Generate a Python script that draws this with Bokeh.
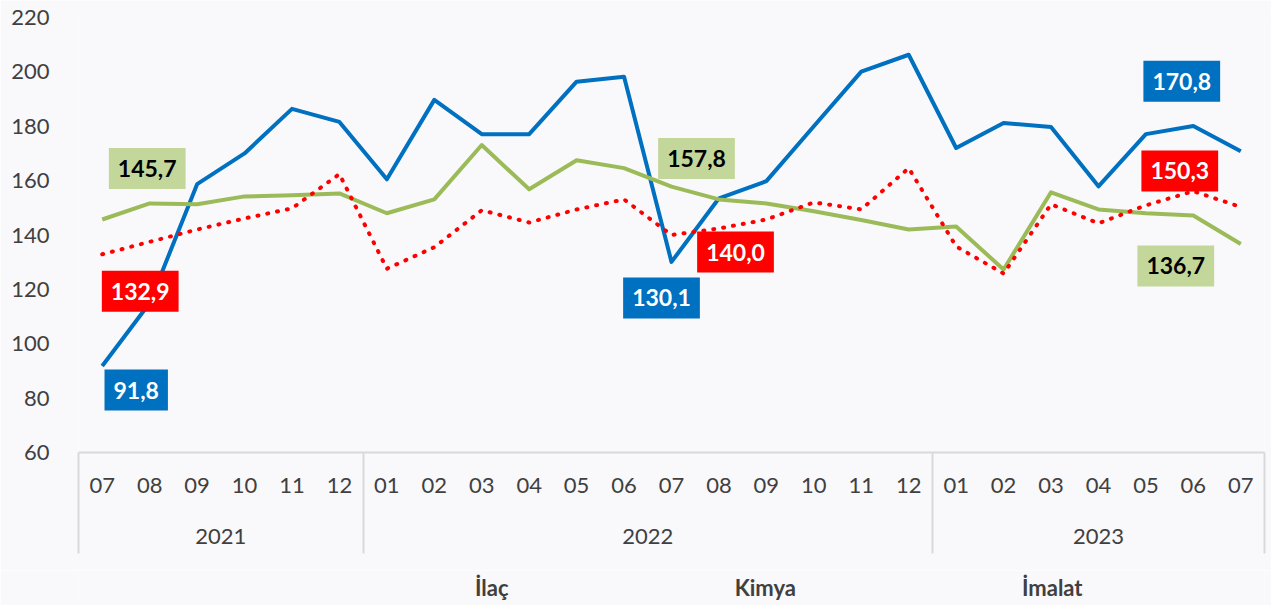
from bokeh.plotting import figure
from bokeh.layouts import column
from bokeh.models import Range1d, Legend, LegendItem, FixedTicker, ColumnDataSource, LinearAxis
from bokeh.embed import file_html
from bokeh.resources import INLINE
from bokeh.core.properties import value

# ---- data ----
years = ["2021"] * 6 + ["2022"] * 12 + ["2023"] * 7
months = ["07", "08", "09", "10", "11", "12",
          "01", "02", "03", "04", "05", "06", "07", "08", "09", "10", "11", "12",
          "01", "02", "03", "04", "05", "06", "07"]
ilac = [91.8, 115.0, 158.7, 170.0, 186.4, 181.6, 160.5, 189.7, 177.1, 177.1, 196.4, 198.2,
        130.1, 153.5, 159.8, 180.0, 200.1, 206.3, 172.0, 181.2, 179.7, 157.9, 177.1, 180.1, 170.8]
kimya = [145.7, 151.6, 151.3, 154.2, 154.6, 155.3, 148.0, 153.1, 173.1, 156.8, 167.5, 164.6,
         157.8, 153.1, 151.6, 148.7, 145.5, 142.0, 143.1, 127.3, 155.7, 149.4, 148.0, 147.2, 136.7]
imalat = [132.9, 137.5, 142.0, 146.1, 149.8, 162.4, 127.6, 135.5, 149.1, 144.6, 149.4, 153.1,
          140.0, 142.4, 145.7, 152.0, 149.4, 164.6, 135.8, 125.8, 151.3, 144.3, 150.9, 156.1, 150.3]
series_names = ["İlaç", "Kimya", "İmalat"]
y_ticks = [60, 80, 100, 120, 140, 160, 180, 200, 220]

# ---- styles ----
BG = "#F9F8FB"
FONT = "Lato"
TXT = "#404040"
GRID = "#D9D9D9"
line_colors = ["#0070C0", "#9BBB59", "#FF0000"]
box_colors = ["#0070C0", "#C4D79B", "#FF0000"]
box_text_colors = ["#FFFFFF", "#000000", "#FFFFFF"]
# (series index, point index, x_offset px, y_offset px)
label_specs = [
    (0, 0, 34, 24), (2, 0, 38, 37), (1, 0, 45, -51),
    (1, 12, 25, -28), (2, 12, 64, 17), (0, 12, -10, 36),
    (0, 24, -59, -70), (2, 24, -61, -36), (1, 24, -65, 22),
]

# category positions on a numeric scale: one unit per month
n = len(months)
xs = [i + 0.5 for i in range(n)]
year_order = list(dict.fromkeys(years))
year_centers = [sum(x for x, y in zip(xs, years) if y == yr) / years.count(yr) for yr in year_order]
bounds = [0]
for yr in year_order:
    bounds.append(bounds[-1] + years.count(yr))

all_series = [ilac, kimya, imalat]


def line_style(i):
    if i == 2:
        return dict(line_color=line_colors[i], line_width=4, line_dash="1 9", line_cap="round")
    return dict(line_color=line_colors[i], line_width=4, line_join="round")


p = figure(width=1271, height=570,
           output_backend="svg", toolbar_location=None,
           x_range=Range1d(0, n), y_range=Range1d(60, 220),
           x_axis_location=None,
           min_border_left=78, min_border_right=7, min_border_top=17, min_border_bottom=118)
p.background_fill_color = BG
p.border_fill_color = BG
p.outline_line_color = None
p.xgrid.grid_line_color = None
p.ygrid.grid_line_color = None

for i, vals in enumerate(all_series):
    p.line(x=xs, y=vals, **line_style(i))

lab = dict(x=[], y=[], text=[], xo=[], yo=[], bg=[], tc=[])
for s, idx, xo, yo in label_specs:
    v = all_series[s][idx]
    lab["x"].append(xs[idx])
    lab["y"].append(v)
    lab["text"].append(f"{v:.1f}".replace(".", ","))
    lab["xo"].append(xo)
    lab["yo"].append(yo)
    lab["bg"].append(box_colors[s])
    lab["tc"].append(box_text_colors[s])
src = ColumnDataSource(lab)
p.text(x="x", y="y", text="text", x_offset="xo", y_offset="yo", source=src,
       text_align="center", text_baseline="middle", text_font=value(FONT),
       text_font_style="bold", text_font_size="23px", text_color="tc",
       background_fill_color="bg", padding=(9, 12))

# month axis (group boundary lines drawn as long minor ticks)
month_axis = LinearAxis(
    ticker=FixedTicker(ticks=xs, minor_ticks=bounds),
    major_label_overrides={x: m for x, m in zip(xs, months)},
    axis_line_color=GRID, axis_line_width=2,
    major_tick_line_color=None,
    minor_tick_line_color=GRID, minor_tick_line_width=2, minor_tick_in=-101, minor_tick_out=0,
    major_label_text_font=FONT, major_label_text_font_size="22px", major_label_text_color=TXT,
    major_label_standoff=19)
p.add_layout(month_axis, "below")

year_axis = LinearAxis(
    ticker=FixedTicker(ticks=year_centers, minor_ticks=[]),
    major_label_overrides={x: yr for x, yr in zip(year_centers, year_order)},
    axis_line_color=None, major_tick_line_color=None, minor_tick_line_color=None,
    major_label_text_font=FONT, major_label_text_font_size="22px", major_label_text_color=TXT,
    major_label_standoff=27)
p.add_layout(year_axis, "below")

ya = p.yaxis[0]
ya.ticker = FixedTicker(ticks=y_ticks)
ya.axis_line_color = None
ya.major_tick_line_color = None
ya.minor_tick_line_color = None
ya.major_label_text_font = FONT
ya.major_label_text_font_size = "22px"
ya.major_label_text_color = TXT
ya.major_label_standoff = 23

# ---- legend strip below the chart ----
p2 = figure(width=1271, height=35, output_backend="svg", toolbar_location=None,
            x_axis_location=None, y_axis_location=None, min_border=0)
p2.background_fill_color = BG
p2.border_fill_color = BG
p2.outline_line_color = None
p2.xgrid.grid_line_color = None
p2.ygrid.grid_line_color = None
key_renderers = [p2.line(x=[], y=[], **line_style(i)) for i in range(len(series_names))]

legend = Legend(items=[LegendItem(label=nm, renderers=[r]) for nm, r in zip(series_names, key_renderers)],
                orientation="horizontal", location=(332, 4),
                glyph_width=61, glyph_height=20, label_standoff=4, spacing=161,
                label_text_font=FONT, label_text_font_size="22px", label_text_font_style="bold",
                label_text_color=TXT, border_line_color=None, background_fill_alpha=0,
                padding=0, margin=0)
p2.add_layout(legend, "center")

layout = column(p, p2, spacing=0)
open("out.html", "w").write(file_html(layout, INLINE))
